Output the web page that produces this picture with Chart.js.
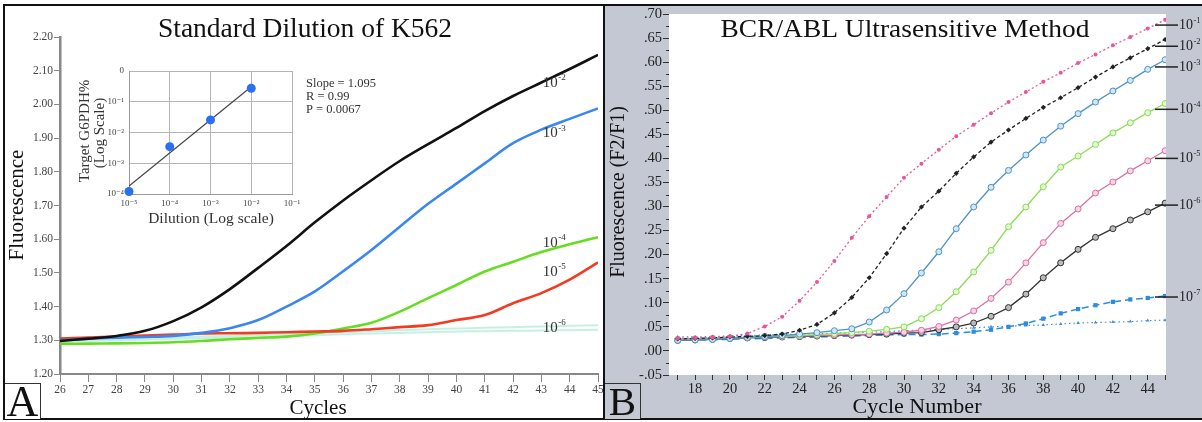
<!DOCTYPE html>
<html><head><meta charset="utf-8">
<script src="https://cdn.jsdelivr.net/npm/chart.js@4.4.1/dist/chart.umd.min.js"></script>
<style>
html,body{margin:0;padding:0;background:#fff;width:1202px;height:422px;overflow:hidden;}
#wrap{position:relative;width:1202px;height:422px;overflow:hidden;}
canvas{position:absolute;}
#frame{position:absolute;left:3px;top:4px;width:1230px;height:412px;border:2px solid #111;pointer-events:none;}
#divider{position:absolute;left:603px;top:4px;width:2px;height:416px;background:#111;}
.tag{position:absolute;top:383px;width:35px;height:35px;border-top:1.5px solid #333;border-right:1.5px solid #333;display:flex;align-items:center;justify-content:center;font-family:"Liberation Serif","DejaVu Serif",serif;color:#111;line-height:1;}
#tagA{left:5px;background:#fff;font-size:44px;}
#tagB{left:605px;background:#c4c8d2;font-size:41px;}
</style></head>
<body><div id="wrap">
<canvas id="cA" width="598" height="412" style="left:5px;top:6px"></canvas>
<canvas id="cB" width="597" height="412" style="left:605px;top:6px"></canvas>
<canvas id="cI" width="240" height="172" style="left:66px;top:58px"></canvas>
<div id="frame"></div>
<div id="divider"></div>
<div class="tag" id="tagA">A</div>
<div class="tag" id="tagB">B</div>
</div>
<script>
// ---------- Panel A data ----------
const cyclesA = [26,27,28,29,30,31,32,33,34,35,36,37,38,39,40,41,42,43,44,45];
const a_1e2 = [1.298,1.305,1.313,1.328,1.357,1.398,1.452,1.515,1.580,1.650,1.715,1.775,1.832,1.882,1.930,1.980,2.025,2.065,2.105,2.147];
const a_1e3 = [1.300,1.305,1.308,1.310,1.313,1.322,1.336,1.360,1.400,1.445,1.505,1.568,1.637,1.705,1.765,1.825,1.885,1.925,1.957,1.988];
const a_1e4 = [1.290,1.290,1.291,1.292,1.294,1.298,1.303,1.307,1.311,1.320,1.335,1.352,1.385,1.425,1.464,1.504,1.533,1.562,1.585,1.606];
const a_1e5 = [1.305,1.308,1.311,1.314,1.317,1.320,1.321,1.322,1.324,1.326,1.328,1.333,1.339,1.345,1.360,1.375,1.410,1.440,1.480,1.531];
const a_1e6a = [1.300,1.302,1.304,1.306,1.308,1.311,1.313,1.315,1.318,1.321,1.324,1.327,1.330,1.333,1.335,1.337,1.339,1.341,1.343,1.345];
const a_1e6b = [1.296,1.298,1.300,1.302,1.304,1.306,1.308,1.310,1.312,1.315,1.318,1.320,1.322,1.324,1.326,1.327,1.328,1.329,1.330,1.331];
const labelsA = ['2','3','4','5','6'];          // exponents shown as 10^-n
const labelAx = 43.05;
const labelAy = [2.064, 1.915, 1.589, 1.503, 1.337];
const statsA = ['Slope = 1.095', 'R = 0.99', 'P = 0.0067'];

// ---------- Inset data ----------
const insetDilution = [-5, -4, -3, -2];
const insetTarget = [-3.92, -2.46, -1.59, -0.56];
const fitX = [-5, -2];
const fitY = [-3.74, -0.51];
const insetXLabels = ['10\u207B\u2075','10\u207B\u2074','10\u207B\u00B3','10\u207B\u00B2','10\u207B\u00B9'];
const insetYLabels = ['0','10\u207B\u00B9','10\u207B\u00B2','10\u207B\u00B3','10\u207B\u2074'];

// ---------- Panel B data ----------
const cyclesB = [17,18,19,20,21,22,23,24,25,26,27,28,29,30,31,32,33,34,35,36,37,38,39,40,41,42,43,44,45];
const b_1e1 = [0.026,0.027,0.028,0.030,0.036,0.051,0.071,0.104,0.143,0.187,0.235,0.280,0.320,0.360,0.389,0.418,0.446,0.470,0.494,0.517,0.538,0.559,0.578,0.598,0.616,0.635,0.652,0.670,0.688];
const b_1e2 = [0.025,0.026,0.027,0.029,0.030,0.032,0.035,0.043,0.055,0.079,0.111,0.152,0.202,0.255,0.299,0.332,0.369,0.403,0.434,0.459,0.483,0.506,0.526,0.547,0.569,0.590,0.609,0.628,0.647];
const b_1e3 = [0.022,0.023,0.024,0.026,0.028,0.030,0.032,0.035,0.038,0.042,0.046,0.060,0.085,0.119,0.162,0.206,0.254,0.299,0.340,0.375,0.407,0.438,0.467,0.493,0.517,0.540,0.562,0.585,0.605];
const b_1e4 = [0.023,0.024,0.025,0.027,0.028,0.030,0.031,0.032,0.034,0.036,0.038,0.041,0.045,0.050,0.067,0.090,0.123,0.164,0.209,0.258,0.299,0.341,0.382,0.405,0.429,0.453,0.474,0.495,0.514];
const b_1e5 = [0.024,0.025,0.026,0.027,0.028,0.029,0.030,0.031,0.032,0.033,0.034,0.035,0.037,0.039,0.043,0.051,0.064,0.083,0.109,0.143,0.183,0.225,0.265,0.295,0.328,0.351,0.374,0.395,0.416];
const b_1e6 = [0.022,0.023,0.024,0.026,0.027,0.028,0.029,0.030,0.031,0.032,0.033,0.034,0.035,0.037,0.038,0.044,0.050,0.058,0.072,0.090,0.118,0.152,0.183,0.211,0.236,0.254,0.272,0.289,0.307];
const b_1e7 = [0.022,0.023,0.023,0.024,0.025,0.026,0.027,0.028,0.029,0.030,0.031,0.032,0.033,0.034,0.034,0.035,0.037,0.040,0.044,0.050,0.057,0.067,0.078,0.087,0.095,0.102,0.107,0.110,0.114];
const b_ntc = [0.029,0.029,0.030,0.031,0.032,0.033,0.034,0.035,0.036,0.037,0.038,0.039,0.040,0.042,0.043,0.045,0.046,0.048,0.050,0.051,0.053,0.054,0.056,0.058,0.059,0.060,0.061,0.063,0.064];
const labelsB = ['1','2','3','4','5','6','7'];
const labelBy = [0.677, 0.633, 0.590, 0.502, 0.400, 0.303, 0.112];

// ---------- helpers ----------
const SERIF = '"Liberation Serif","DejaVu Serif","Times New Roman",serif';
Chart.defaults.font.family = SERIF;
function pts(xs, ys){ return xs.map((x,i)=>({x:x, y:ys[i]})); }
function txt(ctx, s, x, y, o){
  o = o || {};
  ctx.save();
  ctx.font = (o.weight||'normal') + ' ' + (o.size||12) + 'px ' + SERIF;
  ctx.fillStyle = o.color || '#111';
  ctx.textAlign = o.align || 'left';
  ctx.textBaseline = o.baseline || 'alphabetic';
  ctx.translate(x, y);
  if (o.rot) ctx.rotate(o.rot);
  if (o.sx) ctx.scale(o.sx, 1);
  ctx.fillText(s, 0, 0);
  ctx.restore();
}
function pow10(ctx, exp, x, y, size, color){
  ctx.save();
  ctx.font = size + 'px ' + SERIF;
  const w = ctx.measureText('10').width;
  ctx.restore();
  txt(ctx, '10', x, y, {size:size, color:color, baseline:'middle'});
  txt(ctx, '-' + exp, x + w + 0.5, y - size*0.32, {size:size*0.6, color:color, baseline:'middle'});
}
const common = {responsive:false, animation:false, devicePixelRatio:1, events:[],
  plugins:{legend:{display:false}, tooltip:{enabled:false}}};

// ---------- Panel A ----------
const lineA = (label, data, color, w) => ({label:label, data:pts(cyclesA, data), borderColor:color, borderWidth:w, pointRadius:0, tension:0.35, fill:false});
new Chart(document.getElementById('cA'), {
  type:'line',
  data:{datasets:[
    lineA('10^-2', a_1e2, '#111111', 2.6),
    lineA('10^-3', a_1e3, '#3a86f2', 2.6),
    lineA('10^-5', a_1e5, '#f03c20', 2.6),
    lineA('10^-4', a_1e4, '#66dd22', 2.6),
    lineA('10^-6', a_1e6a, '#c8efe4', 2),
    lineA('10^-6', a_1e6b, '#c8efe4', 2)
  ]},
  options:Object.assign({}, common, {
    layout:{padding:{top:31,right:5,bottom:0,left:0}},
    scales:{
      x:{type:'linear', min:26, max:45,
        ticks:{stepSize:1, autoSkip:false, maxRotation:0, includeBounds:false, color:'#444', font:{size:11.5}, padding:1},
        grid:{drawOnChartArea:false, tickLength:8, color:'#888'},
        border:{color:'#888', width:2},
        afterFit(s){ s.height = 44; s.paddingLeft = 0; s.paddingRight = 0; }},
      y:{min:1.2, max:2.2,
        ticks:{stepSize:0.1, color:'#444', font:{size:11.5}, padding:1, callback:v=>Number(v).toFixed(2)},
        grid:{drawOnChartArea:false, tickLength:6, color:'#888'},
        border:{color:'#888', width:2.5},
        afterFit(s){ s.width = 55; s.paddingTop = 0; s.paddingBottom = 0; }}
    }
  }),
  plugins:[{id:'decoA', afterDraw(chart){
    const ctx = chart.ctx, xs = chart.scales.x, ys = chart.scales.y;
    txt(ctx, 'Standard Dilution of K562', 300, 31, {size:27.5, align:'center', color:'#111'});
    txt(ctx, 'Cycles', 313, 408, {size:21, align:'center', color:'#111'});
    txt(ctx, 'Fluorescence', 18, 199, {size:21, align:'center', rot:-Math.PI/2, color:'#111'});
    statsA.forEach((s,i)=> txt(ctx, s, 301, 81 + i*13, {size:12.5, color:'#333'}));
    labelsA.forEach((e,i)=> pow10(ctx, e, xs.getPixelForValue(labelAx), ys.getPixelForValue(labelAy[i]), 15, '#333'));
  }}]
});

// ---------- Inset ----------
new Chart(document.getElementById('cI'), {
  type:'scatter',
  data:{datasets:[
    {type:'scatter', label:'measured', data:pts(insetDilution, insetTarget), pointRadius:4.5, pointBackgroundColor:'#2b6ff2', pointBorderWidth:0, clip:false},
    {type:'line', label:'fit', data:pts(fitX, fitY), borderColor:'#444', borderWidth:1.2, pointRadius:0, tension:0, fill:false}
  ]},
  options:Object.assign({}, common, {
    layout:{padding:{top:13,right:14,bottom:0,left:0}},
    scales:{
      x:{type:'linear', min:-5, max:-1,
        ticks:{stepSize:1, includeBounds:false, color:'#444', font:{size:9}, padding:4, maxRotation:0, autoSkip:false, callback:v=>insetXLabels[Math.round(v)+5]},
        grid:{color:'#b5b5b5', drawTicks:false, lineWidth:1},
        border:{color:'#999', width:1},
        afterFit(s){ s.height = 36; s.paddingLeft = 0; s.paddingRight = 0; }},
      y:{type:'linear', min:-4, max:0,
        ticks:{stepSize:1, includeBounds:false, color:'#444', font:{size:9}, padding:5, autoSkip:false, callback:v=>insetYLabels[-Math.round(v)]},
        grid:{color:'#b5b5b5', drawTicks:false, lineWidth:1},
        border:{color:'#999', width:1},
        afterFit(s){ s.width = 63; s.paddingTop = 0; s.paddingBottom = 0; }}
    }
  }),
  plugins:[{id:'decoI', afterDraw(chart){
    const ctx = chart.ctx;
    txt(ctx, 'Target G6PDH%', 23, 73, {size:15, align:'center', rot:-Math.PI/2, color:'#333'});
    txt(ctx, '(Log Scale)', 38, 75, {size:15, align:'center', rot:-Math.PI/2, color:'#333'});
    txt(ctx, 'Dilution (Log scale)', 145, 165, {size:15.5, align:'center', color:'#333'});
  }}]
});

// ---------- Panel B ----------
const GRAYBG = '#c4c8d2';
new Chart(document.getElementById('cB'), {
  type:'line',
  data:{datasets:[
    {label:'10^-1', data:pts(cyclesB,b_1e1), borderColor:'#e8559a', borderWidth:1.3, borderDash:[2,2.5], pointStyle:'circle', pointRadius:2, pointBackgroundColor:'#e8559a', pointBorderWidth:0},
    {label:'10^-2', data:pts(cyclesB,b_1e2), borderColor:'#222', borderWidth:1.3, borderDash:[3.5,2.5], pointStyle:'rectRot', pointRadius:2.6, pointBackgroundColor:'#222', pointBorderWidth:0},
    {label:'10^-3', data:pts(cyclesB,b_1e3), borderColor:'#4d94c9', borderWidth:1.3, pointStyle:'circle', pointRadius:3, pointBackgroundColor:'#d3e6f4', pointBorderColor:'#4d94c9', pointBorderWidth:1},
    {label:'10^-4', data:pts(cyclesB,b_1e4), borderColor:'#8add55', borderWidth:1.3, pointStyle:'circle', pointRadius:3, pointBackgroundColor:'#e2f7d2', pointBorderColor:'#8add55', pointBorderWidth:1},
    {label:'10^-5', data:pts(cyclesB,b_1e5), borderColor:'#dd6fa3', borderWidth:1.3, pointStyle:'circle', pointRadius:3, pointBackgroundColor:'#f6d6e6', pointBorderColor:'#dd6fa3', pointBorderWidth:1},
    {label:'10^-6', data:pts(cyclesB,b_1e6), borderColor:'#333', borderWidth:1.3, pointStyle:'circle', pointRadius:3, pointBackgroundColor:'#bbbbbb', pointBorderColor:'#333', pointBorderWidth:1},
    {label:'10^-7', data:pts(cyclesB,b_1e7), borderColor:'#2d8ce0', borderWidth:1.5, borderDash:[7,4], pointStyle:'rect', pointRadius:3, pointBackgroundColor:'#2d8ce0', pointBorderWidth:0},
    {label:'NTC', data:pts(cyclesB,b_ntc), borderColor:'#3a8fdc', borderWidth:1.2, borderDash:[1.5,3], pointStyle:'triangle', pointRadius:2, pointBackgroundColor:'#3a8fdc', pointBorderWidth:0}
  ]},
  options:Object.assign({}, common, {
    layout:{padding:{top:8,right:36,bottom:0,left:0}},
    elements:{line:{tension:0}},
    scales:{
      x:{type:'linear', min:16.5, max:45.05,
        ticks:{stepSize:1, autoSkip:false, maxRotation:0, includeBounds:false, color:'#222', font:{size:14.5}, padding:0,
          callback:v=>(Math.round(v)%2===0 ? String(Math.round(v)) : '')},
        grid:{drawOnChartArea:false, tickLength:5, color:'#333'},
        border:{display:false},
        afterFit(s){ s.height = 43; s.paddingLeft = 0; s.paddingRight = 0; }},
      y:{min:-0.05, max:0.70,
        ticks:{stepSize:0.05, color:'#222', font:{size:14.5}, padding:1,
          callback:v=>Number(v).toFixed(2).replace(/^(-?)0\./,'$1.')},
        grid:{drawOnChartArea:false, tickLength:6, color:'#333'},
        border:{display:false},
        afterFit(s){ s.width = 64; s.paddingTop = 0; s.paddingBottom = 0; }}
    }
  }),
  plugins:[{id:'decoB',
    beforeDraw(chart){
      const ctx = chart.ctx, a = chart.chartArea;
      ctx.save();
      ctx.fillStyle = GRAYBG; ctx.fillRect(0,0,chart.width,chart.height);
      ctx.fillStyle = '#fff'; ctx.fillRect(a.left, a.top, a.right-a.left, a.bottom-a.top);
      ctx.restore();
    },
    afterDraw(chart){
      const ctx = chart.ctx, a = chart.chartArea, ys = chart.scales.y;
      // minor ticks
      ctx.save(); ctx.strokeStyle = '#333'; ctx.lineWidth = 1;
      for (let k = -1; k <= 27; k += 2){
        const yy = Math.round(ys.getPixelForValue(k*0.025)) + 0.5;
        ctx.beginPath(); ctx.moveTo(a.left-3, yy); ctx.lineTo(a.left, yy); ctx.stroke();
      }
      ctx.restore();
      txt(ctx, 'BCR/ABL Ultrasensitive Method', 300, 31, {size:24.5, align:'center', sx:1.12, color:'#111'});
      txt(ctx, 'Cycle Number', 312, 407, {size:22, align:'center', color:'#111'});
      txt(ctx, 'Fluorescence (F2/F1)', 19, 186, {size:20, align:'center', rot:-Math.PI/2, color:'#111'});
      // right-side labels with leader lines
      labelsB.forEach((e,i)=>{
        const yy = ys.getPixelForValue(labelBy[i]);
        ctx.save(); ctx.strokeStyle = '#222'; ctx.lineWidth = 1.5;
        ctx.beginPath(); ctx.moveTo(a.right-11, yy); ctx.lineTo(a.right+12, yy); ctx.stroke();
        ctx.restore();
        pow10(ctx, e, a.right+13, yy, 14, '#222');
      });
    }
  }]
});
</script>
</body></html>
